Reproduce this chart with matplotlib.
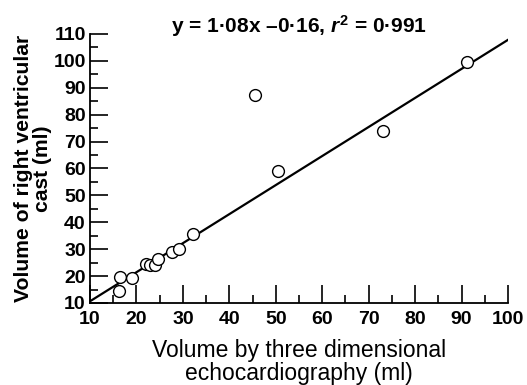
import matplotlib
matplotlib.use('Agg')
import matplotlib.pyplot as plt
import numpy as np

# data
echo_vol = [16.2, 16.5, 19.0, 22.0, 22.9, 24.0, 24.6, 27.6, 29.2, 32.2, 45.5, 50.4, 73.0, 91.2]
cast_vol = [14.5, 19.5, 19.2, 24.5, 24.0, 24.0, 26.5, 28.8, 30.0, 35.5, 87.5, 59.0, 74.0, 99.5]
slope = 1.08
intercept = -0.16
line_x = [10, 100]

plt.rcParams['font.family'] = ['Liberation Sans', 'DejaVu Sans']
plt.rcParams['mathtext.fontset'] = 'custom'
plt.rcParams['mathtext.rm'] = 'Liberation Sans:bold'
plt.rcParams['mathtext.it'] = 'Liberation Sans:bold:italic'

fig = plt.figure(figsize=(5.27, 3.85), dpi=100)
ax = fig.add_axes([0.1708, 0.213, 0.7932, 0.6987])

lx = np.array(line_x)
ax.plot(lx, slope * lx + intercept, color='black', lw=1.6, zorder=2)
ax.plot(echo_vol, cast_vol, 'o', ms=8.5, mfc='white', mec='black', mew=1.0, zorder=3)

ax.set_xlim(10, 100)
ax.set_ylim(10, 110)
ax.set_xticks(range(10, 101, 10))
ax.set_yticks(range(10, 111, 10))
ax.set_xticks(range(15, 100, 10), minor=True)
ax.set_yticks(range(15, 110, 10), minor=True)
ax.tick_params(which='major', direction='in', length=13, width=1.2, labelsize=14, pad=3)
ax.tick_params(axis='x', which='major', pad=6)
ax.tick_params(which='minor', direction='in', length=6, width=1.2)
for lab in ax.get_xticklabels() + ax.get_yticklabels():
    lab.set_fontweight('bold')

for side in ['top', 'right']:
    ax.spines[side].set_visible(False)
for side in ['left', 'bottom']:
    ax.spines[side].set_linewidth(1.3)

ax.set_xlabel("Volume by three dimensional\nechocardiography (ml)", fontsize=16.5, linespacing=0.95, labelpad=8)
ax.set_ylabel("Volume of right ventricular\ncast (ml)", fontsize=15.2, fontweight='bold', linespacing=1.0, labelpad=1)
# equation placed above the plot area, as in the reference
fig.text(0.568, 0.914, "y = 1·08x –0·16, $r^2$ = 0·991", fontsize=15, fontweight='bold',
         ha='center', va='baseline')

fig.savefig('out.png', dpi=100)
